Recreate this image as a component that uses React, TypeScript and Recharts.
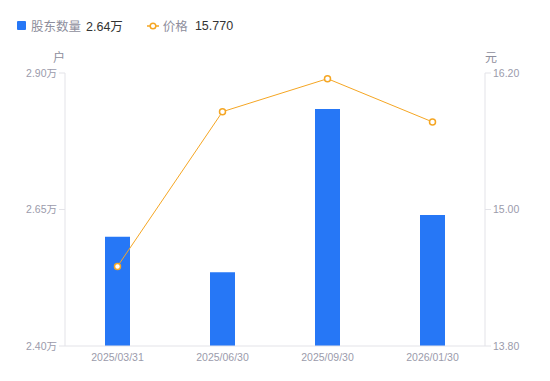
import React from 'react';
import { Bar, ComposedChart, Line, XAxis, YAxis } from 'recharts';

const dates = ['2025/03/31', '2025/06/30', '2025/09/30', '2026/01/30'];
const holders = [2.6, 2.535, 2.834, 2.64];
const prices = [14.5, 15.86, 16.15, 15.77];
const holderTicks = [2.4, 2.65, 2.9];
const priceTicks = [13.8, 15.0, 16.2];

const rows = dates.map((d, i) => ({ date: d, holders: holders[i], price: prices[i] }));

const FONT = '"Liberation Sans", "Noto Sans CJK SC", sans-serif';
const BLUE = '#2677f6';
const ORANGE = '#f5a623';
const TICK = { fill: '#9b9bab', fontSize: 10.5, fontFamily: FONT };
const AXIS = '#e3e3e8';

export default function App() {
  return (
    <div style={{ position: 'absolute', left: 0, top: 0, width: 550, height: 381, background: '#fff', fontFamily: FONT }}>
      <div style={{ position: 'absolute', left: 17, top: 16, display: 'flex', alignItems: 'center', fontSize: 12.5, whiteSpace: 'nowrap' }}>
        <span style={{ display: 'inline-block', width: 9, height: 9, background: BLUE, borderRadius: 1, marginRight: 5 }} />
        <span style={{ color: '#8e8e9c' }}>股东数量</span>
        <span style={{ color: '#333', marginLeft: 5 }}>2.64万</span>
        <svg width={12} height={10} style={{ marginLeft: 24, marginRight: 4 }}>
          <line x1={0} y1={5} x2={12} y2={5} stroke={ORANGE} strokeWidth={1.5} />
          <circle cx={6} cy={5} r={2.8} fill="#fff" stroke={ORANGE} strokeWidth={1.5} />
        </svg>
        <span style={{ color: '#8e8e9c' }}>价格</span>
        <span style={{ color: '#333', marginLeft: 7 }}>15.770</span>
      </div>
      <div style={{ position: 'absolute', left: 53, top: 48, fontSize: 12, color: '#8e8e9c' }}>户</div>
      <div style={{ position: 'absolute', left: 485, top: 48, fontSize: 12, color: '#8e8e9c' }}>元</div>
      <ComposedChart
        width={550}
        height={381}
        data={rows}
        margin={{ top: 73, right: 0, bottom: 0, left: 0 }}
      >
        <XAxis
          dataKey="date"
          tick={TICK}
          tickLine={false}
          axisLine={{ stroke: AXIS }}
          height={35}
        />
        <YAxis
          yAxisId="left"
          width={65}
          domain={[2.4, 2.9]}
          ticks={holderTicks}
          tickFormatter={(v: number) => `${v.toFixed(2)}万`}
          tick={TICK}
          tickLine={{ stroke: AXIS }}
          axisLine={{ stroke: AXIS }}
        />
        <YAxis
          yAxisId="right"
          orientation="right"
          width={65}
          domain={[13.8, 16.2]}
          ticks={priceTicks}
          tickFormatter={(v: number) => v.toFixed(2)}
          tick={TICK}
          tickLine={{ stroke: AXIS }}
          axisLine={{ stroke: AXIS }}
        />
        <Bar yAxisId="left" dataKey="holders" fill={BLUE} barSize={25} isAnimationActive={false} />
        <Line
          yAxisId="right"
          dataKey="price"
          type="linear"
          stroke={ORANGE}
          strokeWidth={1}
          dot={{ r: 3, fill: '#fff', stroke: ORANGE, strokeWidth: 1.5 }}
          isAnimationActive={false}
        />
      </ComposedChart>
    </div>
  );
}
